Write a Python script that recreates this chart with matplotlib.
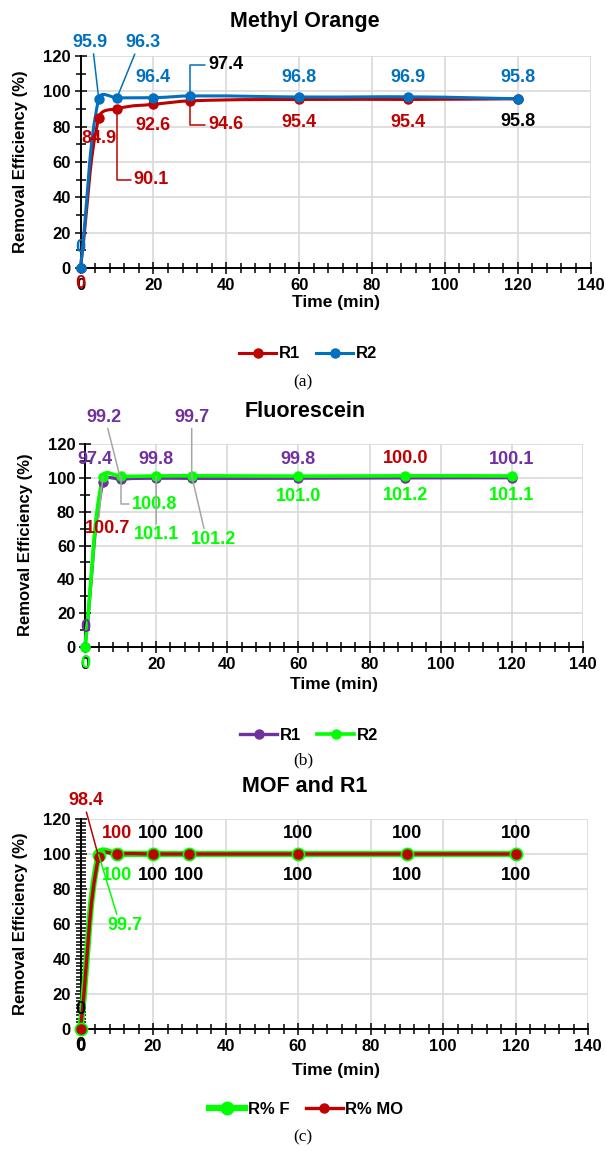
import numpy as np
import matplotlib
matplotlib.use('Agg')
import matplotlib.pyplot as plt
from matplotlib.path import Path
from matplotlib.patches import PathPatch
from matplotlib.lines import Line2D
from matplotlib.ticker import MultipleLocator

plt.rcParams['font.family'] = ['Liberation Sans', 'DejaVu Sans']
plt.rcParams['font.weight'] = 'bold'

# sampling times (min)
time_min = [0, 5, 10, 20, 30, 60, 90, 120]

# removal efficiency (%) - methyl orange
mo_r1 = [0, 84.9, 90.1, 92.6, 94.6, 95.4, 95.4, 95.8]
mo_r2 = [0, 95.9, 96.3, 96.4, 97.4, 96.8, 96.9, 95.8]

# removal efficiency (%) - fluorescein
fl_r1 = [0, 97.4, 99.2, 99.8, 99.7, 99.8, 100.0, 100.1]
fl_r2 = [0, 100.7, 100.8, 101.1, 101.2, 101.0, 101.2, 101.1]

# removal efficiency (%) - MOF and R1
mof_f = [0, 99.7, 100, 100, 100, 100, 100, 100]
mof_mo = [0, 98.4, 100, 100, 100, 100, 100, 100]

RED = '#C00000'
BLUE = '#0070C0'
PURPLE = '#7030A0'
GREEN = '#00FF00'
GREY = '#A6A6A6'

W, H = 606, 1151
fig = plt.figure(figsize=(W / 100, H / 100), dpi=100)


def add_axes(x0, x1, ytop, ybot, yminor):
    ax = fig.add_axes([x0 / W, 1 - ybot / H, (x1 - x0) / W, (ybot - ytop) / H])
    ax.set_xlim(0, 140)
    ax.set_ylim(0, 120)
    ax.xaxis.set_major_locator(MultipleLocator(20))
    ax.xaxis.set_minor_locator(MultipleLocator(4))
    ax.yaxis.set_major_locator(MultipleLocator(20))
    ax.yaxis.set_minor_locator(MultipleLocator(yminor))
    ax.grid(which='major', color='#D9D9D9', lw=1.2)
    ax.set_axisbelow(True)
    for s in ('top', 'right'):
        ax.spines[s].set_visible(False)
    for s in ('left', 'bottom'):
        ax.spines[s].set_linewidth(1.4)
    ax.tick_params(which='both', direction='inout', width=1.1, labelsize=12)
    ax.tick_params(which='major', length=8)
    ax.tick_params(which='minor', length=7)
    ax.tick_params(axis='y', pad=3)
    ax.tick_params(axis='x', pad=3)
    return ax


def smooth_line(ax, t, v, color, lw, k=0.5, zorder=3):
    # bezier smoothing done in screen space, like a spreadsheet "smoothed line"
    pts = ax.transData.transform(np.column_stack([t, v]))
    n = len(pts)
    verts = [pts[0]]
    codes = [Path.MOVETO]
    for i in range(n - 1):
        p0, p1 = pts[max(i - 1, 0)], pts[i]
        p2, p3 = pts[i + 1], pts[min(i + 2, n - 1)]
        seg = np.hypot(*(p2 - p1))
        d1 = p2 - p0
        d2 = p3 - p1
        d1 = d1 / np.hypot(*d1)
        d2 = d2 / np.hypot(*d2)
        verts += [p1 + d1 * seg * k, p2 - d2 * seg * k * 0.6, p2]
        codes += [Path.CURVE4] * 3
    verts = ax.transData.inverted().transform(np.array(verts))
    ax.add_patch(PathPatch(Path(verts, codes), fill=False, edgecolor=color,
                           lw=lw, capstyle='round', joinstyle='round',
                           clip_on=False, zorder=zorder))


def put_labels(ax, t, v, fmt, offsets, colors, leaders, fs=13):
    for i, (ti, vi) in enumerate(zip(t, v)):
        dx, dy = offsets[i]
        kw = {}
        if i in leaders:
            kind, rel, lcol = leaders[i]
            cs = 'arc3' if kind == 'line' else 'angle,angleA=0,angleB=90,rad=0'
            kw['arrowprops'] = dict(arrowstyle='-', color=lcol, lw=1.1,
                                    shrinkA=0, shrinkB=0, relpos=rel,
                                    connectionstyle=cs)
        ax.annotate(fmt(vi), xy=(ti, vi), xytext=(dx, dy),
                    textcoords='offset pixels', ha='center', va='center',
                    color=colors[i], fontsize=fs, fontweight='bold',
                    annotation_clip=False, zorder=6, **kw)


def fmt1(x):
    return '0' if x == 0 else '{:.1f}'.format(x)


def fmtg(x):
    return '{:g}'.format(x)


def outer_text(ax_title, title_xy, ylab_xy, xlab_xy, letter_xy, letter):
    fig.text(title_xy[0] / W, 1 - title_xy[1] / H, ax_title, ha='center',
             va='center', fontsize=15.5, fontweight='bold')
    fig.text(ylab_xy[0] / W, 1 - ylab_xy[1] / H, 'Removal Efficiency (%)',
             rotation=90, ha='center', va='center', fontsize=12,
             fontweight='bold')
    fig.text(xlab_xy[0] / W, 1 - xlab_xy[1] / H, 'Time (min)', ha='center',
             va='center', fontsize=12.5, fontweight='bold')
    fig.text(letter_xy[0] / W, 1 - letter_xy[1] / H, letter, ha='center',
             va='center', fontsize=12.5, fontweight='normal',
             family='Liberation Serif')


def legend(handles, labels, xy):
    fig.legend(handles, labels, loc='center',
               bbox_to_anchor=(xy[0] / W, 1 - xy[1] / H), ncol=2,
               frameon=False, handlelength=2.2,
               handletextpad=0.15, columnspacing=1.0,
               prop={'weight': 'bold', 'size': 12})


# ---- (a) Methyl Orange ----
ax = add_axes(80.5, 590.5, 56, 268, 10)
smooth_line(ax, time_min, mo_r1, RED, 2.2)
smooth_line(ax, time_min, mo_r2, BLUE, 2.2)
ax.plot(time_min, mo_r1, 'o', color=RED, ms=6.5, clip_on=False, zorder=4)
ax.plot(time_min, mo_r2, 'o', color=BLUE, ms=6.5, clip_on=False, zorder=4)
put_labels(ax, time_min, mo_r2, fmt1,
           [(0, 20), (-9, 56), (26, 55), (0, 20), (36, 31), (0, 19), (0, 19), (0, 21)],
           [BLUE] * 4 + ['black'] + [BLUE] * 3,
           {1: ('line', (0.6, 0), BLUE), 2: ('line', (0.3, 0), BLUE),
            4: ('elbow', (0, 0.5), BLUE)})
put_labels(ax, time_min, mo_r1, fmt1,
           [(0, -16), (0, -20), (34, -71), (0, -21), (36, -24), (0, -23), (0, -23), (0, -23)],
           [RED] * 7 + ['black'],
           {2: ('elbow', (0, 0.5), RED), 4: ('elbow', (0, 0.5), RED)})
outer_text('Methyl Orange', (305, 21), (21, 162), (336, 303), (303, 382), '(a)')
legend([Line2D([], [], color=RED, lw=2.2, marker='o', ms=6.5),
        Line2D([], [], color=BLUE, lw=2.2, marker='o', ms=6.5)],
       ['R1', 'R2'], (308, 354))

# ---- (b) Fluorescein ----
ax = add_axes(85, 583, 444, 647, 10)
smooth_line(ax, time_min, fl_r1, PURPLE, 2.4)
smooth_line(ax, time_min, fl_r2, GREEN, 2.6)
ax.plot(time_min, fl_r1, 'o', color=PURPLE, ms=6.5, clip_on=False, zorder=4)
ax.plot(time_min, fl_r2, 'o', color=GREEN, ms=6.5, clip_on=False, zorder=4)
put_labels(ax, time_min, fl_r1, fmt1,
           [(0, 19), (-8, 23), (-17, 62), (0, 19), (0, 61), (0, 19), (0, 19), (0, 18)],
           [PURPLE] * 6 + [RED, PURPLE],
           {2: ('line', (0.6, 0), GREY), 4: ('line', (0.5, 0), GREY)})
put_labels(ax, time_min, fl_r2, fmt1,
           [(0, -16), (5, -52), (34, -28), (0, -59), (22, -64), (0, -20), (0, -20), (0, -20)],
           [GREEN, RED] + [GREEN] * 6,
           {1: ('line', (0.3, 1), GREY), 2: ('elbow', (0, 0.5), GREY),
            3: ('line', (0.5, 1), GREY), 4: ('line', (0.3, 1), GREY)})
outer_text('Fluorescein', (305, 411), (26, 545), (334, 684), (303, 760), '(b)')
legend([Line2D([], [], color=PURPLE, lw=2.4, marker='o', ms=6.5),
        Line2D([], [], color=GREEN, lw=2.6, marker='o', ms=6.5)],
       ['R1', 'R2'], (309, 735))

# ---- (c) MOF and R1 ----
ax = add_axes(80.5, 588, 819, 1029, 2)
smooth_line(ax, time_min, mof_f, GREEN, 4.5)
smooth_line(ax, time_min, mof_mo, RED, 2.4)
ax.plot(time_min, mof_f, 'o', color=GREEN, ms=9, clip_on=False, zorder=4)
ax.plot(time_min, mof_mo, 'o', color=RED, ms=6.5, clip_on=False, zorder=5)
put_labels(ax, time_min, mof_mo, fmtg,
           [(0, 20), (-13, 56)] + [(0, 20)] * 6,
           ['black', RED, RED] + ['black'] * 5,
           {1: ('line', (0.5, 0), RED)})
put_labels(ax, time_min, mof_f, fmtg,
           [(0, -16), (26, -71)] + [(0, -21)] * 6,
           ['black', GREEN, GREEN] + ['black'] * 5,
           {1: ('line', (0.3, 1), GREEN)})
outer_text('MOF and R1', (305, 787), (21, 924), (336, 1070), (303, 1137), '(c)')
legend([Line2D([], [], color=GREEN, lw=4.5, marker='o', ms=9),
        Line2D([], [], color=RED, lw=2.4, marker='o', ms=6.5)],
       ['R% F', 'R% MO'], (306, 1109))

fig.savefig('out.png', dpi=100)
